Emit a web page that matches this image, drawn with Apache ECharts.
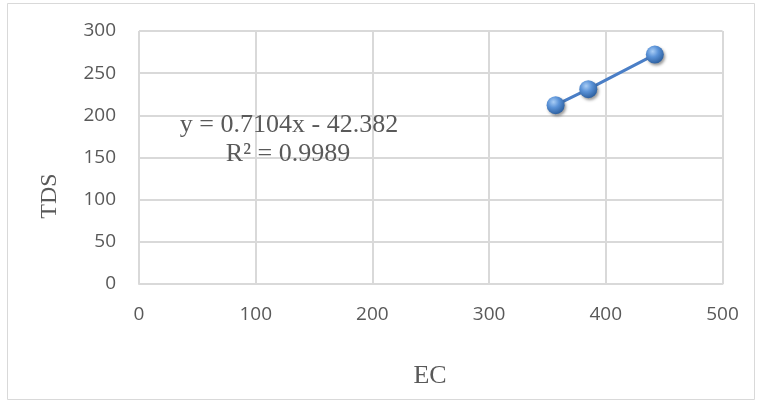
<!DOCTYPE html>
<html>
<head>
<meta charset="utf-8">
<script src="https://cdn.jsdelivr.net/npm/echarts@6/dist/echarts.min.js"></script>
<style>
  html, body { margin: 0; padding: 0; background: #fff; }
  #chart { width: 760px; height: 402px; }
</style>
</head>
<body>
<div id="chart"></div>
<script>
const ecValues = [357, 385, 442];
const tdsValues = [212, 231, 272];
const xAxisTitle = 'EC';
const yAxisTitle = 'TDS';
const equationLines = ['y = 0.7104x - 42.382', 'R² = 0.9989'];

const points = ecValues.map((x, i) => [x, tdsValues[i]]);
const chart = echarts.init(document.getElementById('chart'), null, { renderer: 'canvas' });

const gridColor = '#d9d9d9';
const textColor = '#595959';

const option = {
  backgroundColor: '#ffffff',
  animation: false,
  grid: { left: 139, right: 37.5, top: 31, bottom: 118, containLabel: false },
  xAxis: {
    type: 'value', min: 0, max: 500, interval: 100,
    axisLine: { show: true, lineStyle: { color: gridColor, width: 2 } },
    axisTick: { show: false },
    splitLine: { show: true, lineStyle: { color: gridColor, width: 2 } },
    axisLabel: { color: textColor, fontFamily: 'Open Sans', fontSize: 19, margin: 21 }
  },
  yAxis: {
    type: 'value', min: 0, max: 300, interval: 50,
    axisLine: { show: false },
    axisTick: { show: false },
    splitLine: { show: true, lineStyle: { color: gridColor, width: 2 } },
    axisLabel: { color: textColor, fontFamily: 'Open Sans', fontSize: 19, margin: 23 }
  },
  series: [{
    type: 'line',
    data: points,
    symbol: 'circle',
    symbolSize: 18,
    lineStyle: { color: '#4a7ec6', width: 3 },
    itemStyle: {
      color: new echarts.graphic.RadialGradient(0.38, 0.32, 0.7, [
        { offset: 0, color: '#a9cdf5' },
        { offset: 0.45, color: '#5b93d8' },
        { offset: 1, color: '#2c5f9f' }
      ]),
      shadowColor: 'rgba(0,0,0,0.4)',
      shadowBlur: 3,
      shadowOffsetX: 1.5,
      shadowOffsetY: 2
    },
    z: 3
  }],
  graphic: [
    {
      type: 'rect', silent: true, z: -1,
      shape: { x: 7.5, y: 3.5, width: 747, height: 396 },
      style: { fill: 'none', stroke: gridColor, lineWidth: 1 }
    },
    {
      type: 'text', silent: true, z: 10,
      x: 289, y: 125,
      style: {
        text: equationLines[0], fill: textColor,
        font: '26px "Liberation Serif"', textAlign: 'center', textVerticalAlign: 'middle'
      }
    },
    {
      type: 'text', silent: true, z: 10,
      x: 288, y: 154,
      style: {
        text: equationLines[1], fill: textColor,
        font: '26px "Liberation Serif"', textAlign: 'center', textVerticalAlign: 'middle'
      }
    },
    {
      type: 'text', silent: true, z: 10,
      x: 430, y: 376,
      style: {
        text: xAxisTitle, fill: textColor,
        font: '26px "Liberation Serif"', textAlign: 'center', textVerticalAlign: 'middle'
      }
    },
    {
      type: 'text', silent: true, z: 10,
      x: 50, y: 196, rotation: Math.PI / 2,
      style: {
        text: yAxisTitle, fill: textColor,
        font: '24px "Liberation Serif"', textAlign: 'center', textVerticalAlign: 'middle'
      }
    }
  ]
};
chart.setOption(option);
</script>
</body>
</html>
